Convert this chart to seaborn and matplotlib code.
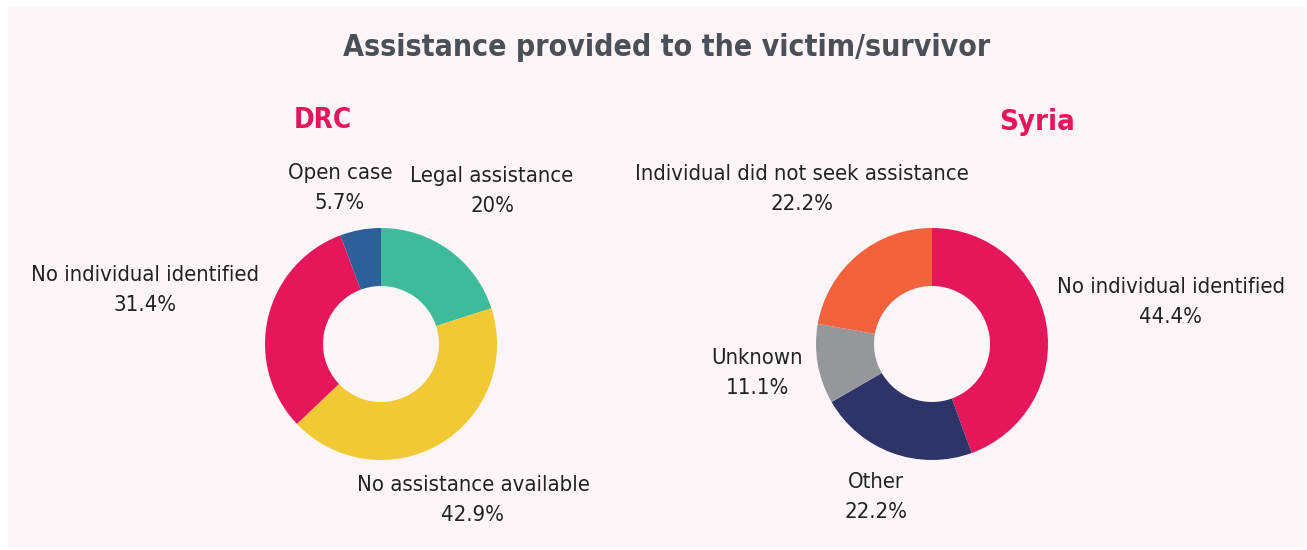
import matplotlib
matplotlib.use("Agg")
import matplotlib.pyplot as plt
from matplotlib.patches import Rectangle
from matplotlib import font_manager
import seaborn as sns

# Data
drc_labels = ["Legal assistance", "No assistance available", "No individual identified", "Open case"]
drc_values = [20.0, 42.9, 31.4, 5.7]
drc_pct = ["20%", "42.9%", "31.4%", "5.7%"]

syria_labels = ["No individual identified", "Other", "Unknown", "Individual did not seek assistance"]
syria_values = [44.4, 22.2, 11.1, 22.2]
syria_pct = ["44.4%", "22.2%", "11.1%", "22.2%"]

title = "Assistance provided to the victim/survivor"
panel_titles = ["DRC", "Syria"]

sns.set_theme(style="white")
plt.rcParams["font.family"] = ["DejaVu Sans"]

# prefer a condensed face when one is installed
has_condensed = any("Condensed" in f.name or f.stretch in ("condensed", 500)
                    for f in font_manager.fontManager.ttflist if f.name == "DejaVu Sans")
stretch = "condensed" if has_condensed else "normal"
scale = 1.0 if has_condensed else 0.83

drc_colors = sns.color_palette(["#3dbb9a", "#f1c935", "#e5175a", "#2e5f99"])
syria_colors = sns.color_palette(["#e5175a", "#2f3468", "#96979b", "#f4623c"])

W, H = 1307, 550
fig = plt.figure(figsize=(W / 100, H / 100), dpi=100)
fig.patch.set_facecolor("white")
fig.patches.append(Rectangle((8 / W, 2 / H), 1297 / W, 541 / H, transform=fig.transFigure,
                             facecolor="#fef5f8", edgecolor="none", zorder=-5))

ax = fig.add_axes([0, 0, 1, 1])
ax.patch.set_alpha(0)

def py(y):
    return H - y

R, RING = 116, 58

def donut(values, colors, cx, cy):
    ax.pie(values, colors=colors, startangle=90, counterclock=False,
           center=(cx, py(cy)), radius=R,
           wedgeprops=dict(width=RING, edgecolor="none", linewidth=0))

donut(drc_values, drc_colors, 381, 344)
donut(syria_values, syria_colors, 932, 344)

# pie() resets the limits, so fix the pixel-based frame afterwards
ax.set_xlim(0, W)
ax.set_ylim(0, H)
ax.set_aspect("equal")
ax.axis("off")

label_kw = dict(ha="center", va="center", fontsize=15.8 * scale, color="#222222",
                linespacing=1.6, fontstretch=stretch)

drc_pos = [(492, 191), (473, 500), (145, 290), (340, 188)]
for (x, y), lab, pct in zip(drc_pos, drc_labels, drc_pct):
    ax.text(x, py(y), f"{lab}\n{pct}", **label_kw)

syria_pos = [(1171, 302), (876, 497), (757, 373), (802, 189)]
for (x, y), lab, pct in zip(syria_pos, syria_labels, syria_pct):
    ax.text(x, py(y), f"{lab}\n{pct}", **label_kw)

ax.text(667, py(48), title, ha="center", va="center", fontsize=21.7 * scale,
        fontweight="bold", color="#4b5058", fontstretch=stretch)
ax.text(323, py(120), panel_titles[0], ha="center", va="center", fontsize=20 * scale,
        fontweight="bold", color="#e5175a", fontstretch=stretch)
ax.text(1037, py(122), panel_titles[1], ha="center", va="center", fontsize=21 * scale,
        fontweight="bold", color="#e5175a", fontstretch=stretch)

fig.savefig("out.png", dpi=100, facecolor=fig.get_facecolor())
